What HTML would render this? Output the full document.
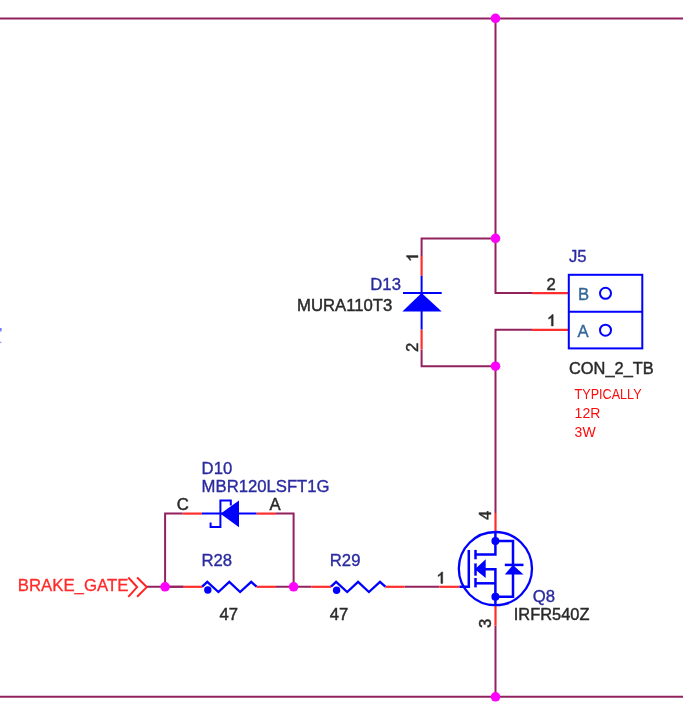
<!DOCTYPE html>
<html><head><meta charset="utf-8">
<style>
html,body{margin:0;padding:0;background:#fff;width:683px;height:725px;overflow:hidden}
svg{display:block;filter:blur(0.45px)}
text{font-family:"Liberation Sans",sans-serif}
</style></head>
<body>
<svg width="683" height="725" viewBox="0 0 683 725">
<rect width="683" height="725" fill="#fff"/>
<rect x="0" y="328" width="1.6" height="3.4" fill="#7878ff"/>
<rect x="0" y="341.6" width="1.4" height="1.6" fill="#a8a8ff"/>
<!-- wires -->
<g stroke="#92225e" stroke-width="2" fill="none">
<line x1="0" y1="18.4" x2="683" y2="18.4"/>
<line x1="0" y1="696.8" x2="683" y2="696.8"/>
<polyline points="495.5,18.4 495.5,293.1 532,293.1"/>
<polyline points="532,329.8 495.5,329.8 495.5,513"/>
<line x1="495.5" y1="625.6" x2="495.5" y2="696.8"/>
<polyline points="495.5,238.4 421.6,238.4 421.6,256"/>
<polyline points="495.5,366.2 421.6,366.2 421.6,349.4"/>
<polyline points="182.7,513.6 165.1,513.6 165.1,586.8 183.6,586.8"/>
<polyline points="276,513.6 293.6,513.6 293.6,586.8"/>
<line x1="147" y1="586.8" x2="183.6" y2="586.8"/>
<line x1="276" y1="586.8" x2="311.2" y2="586.8"/>
<line x1="404.5" y1="586.8" x2="439.3" y2="586.8"/>
</g>
<!-- pins red -->
<g stroke="#ff2e2e" stroke-width="2.2" fill="none">
<line x1="532" y1="293.1" x2="568.8" y2="293.1"/>
<line x1="532" y1="329.8" x2="568.8" y2="329.8"/>
<line x1="421.6" y1="256" x2="421.6" y2="275.7"/>
<line x1="421.6" y1="329.5" x2="421.6" y2="349.4"/>
<line x1="182.7" y1="513.6" x2="202" y2="513.6"/>
<line x1="256.5" y1="513.6" x2="276" y2="513.6"/>
<line x1="183.6" y1="586.8" x2="202.5" y2="586.8"/>
<line x1="256.5" y1="586.8" x2="276" y2="586.8"/>
<line x1="311.2" y1="586.8" x2="331" y2="586.8"/>
<line x1="385.3" y1="586.8" x2="404.5" y2="586.8"/>
<line x1="439.3" y1="586.8" x2="459.5" y2="586.8"/>
<line x1="495.5" y1="513" x2="495.5" y2="532"/>
<line x1="495.5" y1="605.2" x2="495.5" y2="625.6"/>
</g>
<!-- blue symbols -->
<g stroke="#0000ff" stroke-width="2" fill="none">
<!-- D13 -->
<line x1="421.6" y1="275.7" x2="421.6" y2="329.5"/>
<line x1="403" y1="293.1" x2="441.7" y2="293.1"/>
<!-- D10 -->
<line x1="202" y1="513.6" x2="256.5" y2="513.6"/>
<polyline points="230.8,505.5 230.8,500.6 220.4,500.6 220.4,527 210.6,527 210.6,522.5"/>
<!-- R28 / R29 -->
<polyline stroke-width="2.3" points="202.2,586.6 207.3,581.8 218.4,592 229.3,581.8 240.1,592 251.2,581.8 256.5,586.6"/>
<polyline stroke-width="2.3" points="331,586.6 336.1,581.8 347.2,592 358.1,581.8 368.9,592 380,581.8 385.3,586.6"/>
<!-- J5 -->
<rect x="568.8" y="274.8" width="73.5" height="73.6"/>
<line x1="568.8" y1="311.7" x2="642.3" y2="311.7"/>
<circle cx="605.5" cy="293.3" r="5.5"/>
<circle cx="605.5" cy="330.2" r="5.5"/>
<!-- Q8 -->
<circle cx="495.4" cy="568.6" r="36.6" stroke-width="2.3"/>
<g stroke-width="2.5">
<polyline points="459.5,586.8 468.8,586.8 468.8,549.9"/>
<line x1="475.5" y1="549.9" x2="475.5" y2="559.3"/>
<line x1="475.5" y1="563.4" x2="475.5" y2="575.7"/>
<line x1="475.5" y1="578" x2="475.5" y2="587.4"/>
<polyline points="475.5,554.6 495.4,554.6 495.4,532"/>
<polyline points="475.5,569.2 495.4,569.2 495.4,605.2"/>
<line x1="475.5" y1="583.3" x2="495.4" y2="583.3"/>
<polyline points="495.4,541.1 513,541.1 513,596.8 495.4,596.8"/>
<line x1="504.8" y1="564.9" x2="523.5" y2="564.9"/>
</g>
</g>
<g fill="#0000ff" stroke="none">
<polygon points="421.6,293.1 402.4,311.4 441.7,311.4"/>
<polygon points="220.5,513.7 239,500.5 239,527.3"/>
<circle cx="207.8" cy="590" r="3.7"/>
<circle cx="336.6" cy="590.2" r="3.7"/>
<polygon points="474.9,569.2 485.7,559.3 485.7,578"/>
<circle cx="495.4" cy="541.1" r="4"/>
<circle cx="495.4" cy="596.8" r="4"/>
<polygon points="513,564.9 504.8,574.5 523.5,574.5"/>
</g>
<!-- port -->
<g stroke="#ff2424" stroke-width="2" fill="none">
<polyline points="128.3,577.5 137.1,587.1 128.3,596.8"/>
<polyline points="137.1,577.5 146.8,587.1 137.1,596.8"/>
</g>
<!-- junctions -->
<g fill="#ff00ff">
<circle cx="495.5" cy="18.4" r="4.8"/>
<circle cx="495.5" cy="238.4" r="4.8"/>
<circle cx="495.5" cy="366.2" r="4.8"/>
<circle cx="495.5" cy="696.8" r="4.8"/>
<circle cx="165.1" cy="586.8" r="4.8"/>
<circle cx="293.6" cy="586.8" r="4.8"/>
</g>
<!-- text -->
<g font-size="16.7" fill="#2a2aa0" stroke="#2a2aa0" stroke-width="0.35">
<text x="569" y="262.4">J5</text>
<text x="370.3" y="289.6">D13</text>
<text x="201.6" y="474">D10</text>
<text x="201.6" y="492.2">MBR120LSFT1G</text>
<text x="201.5" y="565.6">R28</text>
<text x="329.8" y="565.6">R29</text>
<text x="532.8" y="602.1">Q8</text>
</g>
<g font-size="16.7" fill="#2a2a2a" stroke="#2a2a2a" stroke-width="0.45">
<text x="297" y="311.4">MURA110T3</text>
<text x="569" y="373.7" font-size="16.4">CON_2_TB</text>
<text x="513.8" y="619.8" font-size="16.4">IRFR540Z</text>
<text x="219.4" y="619.9">47</text>
<text x="329.8" y="619.6">47</text>
<text x="546.6" y="290.3">2</text>

<text x="176.8" y="509.9">C</text>
<text x="269.6" y="509.9">A</text>


<text transform="translate(418,352) rotate(-90)">2</text>
<text transform="translate(491.2,520) rotate(-90)">4</text>
<text transform="translate(491,628) rotate(-90)">3</text>
</g>
<g font-size="16.7" fill="#336699" stroke="#336699" stroke-width="0.35">
<text x="578" y="300.4">B</text>
<text x="577.6" y="337.4">A</text>
</g>
<g font-size="14" fill="#ff0a0a">
<text x="574.6" y="398.9" textLength="67" lengthAdjust="spacingAndGlyphs">TYPICALLY</text>
<text x="574.6" y="418.2">12R</text>
<text x="574.6" y="437.1">3W</text>
</g>
<text x="17.7" y="591.1" font-size="16.8" fill="#ff2a2a" stroke="#ff2a2a" stroke-width="0.3">BRAKE_GATE</text>
<g fill="#2a2a2a" stroke="#2a2a2a" stroke-width="0.45">
<path transform="translate(548.4,326)" d="M3.0,0 L3.0,-8.6 C2.2,-7.9 1.2,-7.3 0.2,-6.9 L0.2,-8.3 C1.7,-9.0 2.9,-10.1 3.6,-11.5 L4.8,-11.5 L4.8,0 Z"/>
<path transform="translate(437.9,583.4)" d="M3.0,0 L3.0,-8.6 C2.2,-7.9 1.2,-7.3 0.2,-6.9 L0.2,-8.3 C1.7,-9.0 2.9,-10.1 3.6,-11.5 L4.8,-11.5 L4.8,0 Z"/>
<path transform="translate(418,260.4) rotate(-90)" d="M3.0,0 L3.0,-8.6 C2.2,-7.9 1.2,-7.3 0.2,-6.9 L0.2,-8.3 C1.7,-9.0 2.9,-10.1 3.6,-11.5 L4.8,-11.5 L4.8,0 Z"/>
</g>
</svg>
</body></html>
